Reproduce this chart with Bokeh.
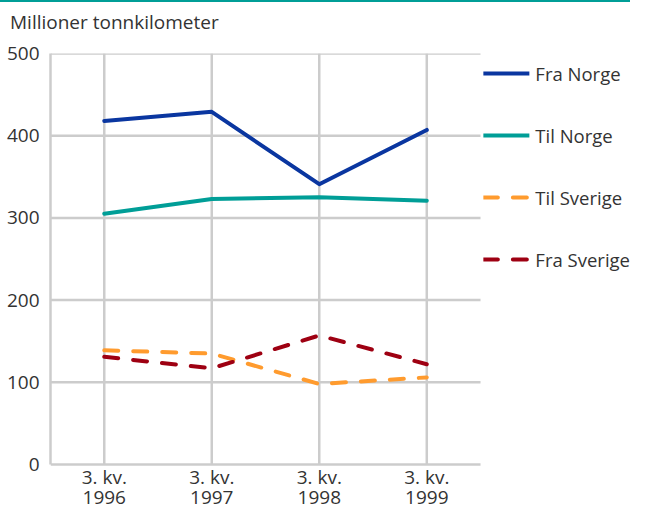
from bokeh.plotting import figure
from bokeh.models import Range1d, Legend, LegendItem, Div, SingleIntervalTicker
from bokeh.core.properties import value
from bokeh.layouts import column
from bokeh.embed import file_html
from bokeh.resources import INLINE

quarter_label = "3. kv."
years = ["1996", "1997", "1998", "1999"]
fra_norge = [418, 429, 341, 407]
til_norge = [305, 323, 325, 321]
til_sverige = [139, 135, 98, 106]
fra_sverige = [131, 117, 157, 122]
series_names = ["Fra Norge", "Til Norge", "Til Sverige", "Fra Sverige"]
title_text = "Millioner tonnkilometer"
y_min, y_max, y_step = 0, 500, 100

n = len(years)
xs = [i + 0.5 for i in range(n)]          # category centres
y_ticks = list(range(y_min, y_max + 1, y_step))

FONT = "Open Sans"
TXT = "#333333"
GRID = "#cccccc"
FS = "19px"
Y_BOTTOM = -53.5   # room below the zero line for the category labels
X_END = n + 1.395  # room right of the plot area for the legend

p = figure(width=630, height=470, x_range=Range1d(0, X_END), y_range=Range1d(Y_BOTTOM, y_max),
           x_axis_location=None, output_backend="svg", toolbar_location=None,
           min_border_left=50, min_border_right=0, min_border_top=15, min_border_bottom=0)
p.outline_line_color = None
p.xgrid.visible = False
p.ygrid.visible = False

# grid lines
p.segment(x0=[0] * len(y_ticks), y0=y_ticks, x1=[n] * len(y_ticks), y1=y_ticks,
          line_color=GRID, line_width=2.5)
p.segment(x0=xs, y0=[y_min] * n, x1=xs, y1=[y_max] * n, line_color=GRID, line_width=2.5)

colors = ["#0a36a0", "#009e97", "#ff9b2e", "#9e0012"]
dashes = ["solid", "solid", "14 15", "14 15"]
data = [fra_norge, til_norge, til_sverige, fra_sverige]
items = []
for name, vals, c, d in zip(series_names, data, colors, dashes):
    r = p.line(xs, vals, line_color=c, line_width=4, line_dash=d, line_cap="round", line_join="round")
    items.append(LegendItem(label=name, renderers=[r]))

# category labels (two lines)
p.text(x=xs, y=[y_min] * n, text=[quarter_label] * n, y_offset=12,
       text_align="center", text_baseline="alphabetic", text_font=value(FONT),
       text_font_size=FS, text_color=TXT)
p.text(x=xs, y=[y_min] * n, text=years, y_offset=33,
       text_align="center", text_baseline="alphabetic", text_font=value(FONT),
       text_font_size=FS, text_color=TXT)

legend = Legend(items=items, location="top_right", border_line_alpha=0, background_fill_alpha=0,
                margin=0, padding=0, spacing=22, glyph_width=46, glyph_height=40, label_height=40,
                label_standoff=6, label_text_font=FONT, label_text_font_size="18.5px", label_text_color=TXT)
p.add_layout(legend, "center")

p.yaxis.ticker = SingleIntervalTicker(interval=y_step)
p.yaxis.bounds = (y_min, y_max)
p.yaxis.axis_line_color = GRID
p.yaxis.axis_line_width = 2.5
p.yaxis.major_tick_line_color = None
p.yaxis.minor_tick_line_color = None
p.yaxis.major_label_text_font = FONT
p.yaxis.major_label_text_font_size = FS
p.yaxis.major_label_text_color = TXT
p.yaxis.major_label_standoff = 5

top_rule = Div(text="", width=630, height=2, margin=0, styles={"background-color": "#009e97"})
title_div = Div(text=title_text, width=630, height=36, margin=0,
                styles={"font-family": "'Open Sans'", "font-size": FS, "line-height": "40px",
                        "color": TXT, "text-indent": "10px", "white-space": "nowrap"})
layout = column(top_rule, title_div, p, spacing=0)

open("out.html", "w").write(file_html(layout, INLINE))
